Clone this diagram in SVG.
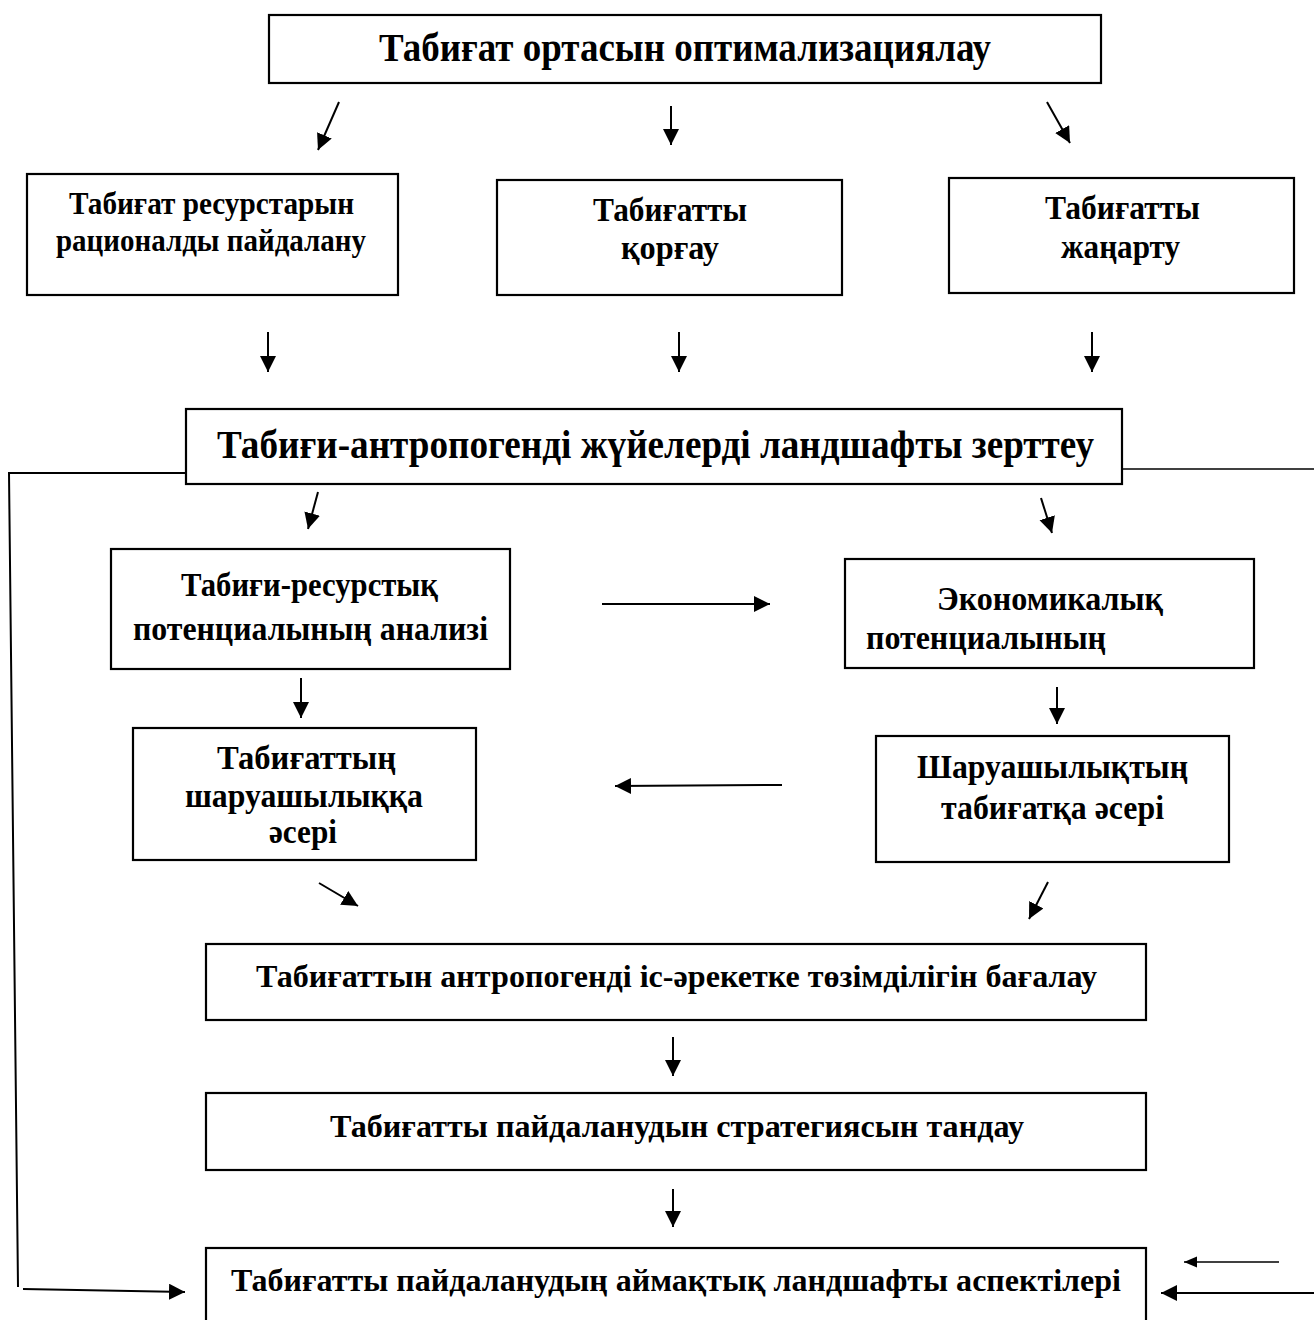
<svg xmlns="http://www.w3.org/2000/svg" width="1314" height="1320" viewBox="0 0 1314 1320">
<style>
.box{fill:#fff;stroke:#000;stroke-width:2.2}
.t{font-family:"Liberation Serif","Times New Roman",serif;font-weight:bold;fill:#000}
.c{stroke:#000;stroke-width:2;fill:none}
.thin{stroke:#000;stroke-width:1.3;fill:none}
</style>
<defs>
<marker id="ah" markerUnits="userSpaceOnUse" markerWidth="18" markerHeight="17" refX="16" refY="8" orient="auto">
<path d="M0,0 L16,8 L0,16 z" fill="#000"/>
</marker>
<marker id="ahs" markerUnits="userSpaceOnUse" markerWidth="14" markerHeight="12" refX="13" refY="5.5" orient="auto">
<path d="M0,0 L13,5.5 L0,11 z" fill="#000"/>
</marker>
</defs>
<rect width="1314" height="1320" fill="#fff"/>

<g id="n1"><rect class="box" x="269" y="15" width="832" height="68"/>
<text class="t" x="379" y="61" font-size="40" textLength="612" lengthAdjust="spacingAndGlyphs">Табиғат ортасын оптимализациялау</text></g>

<g id="n2"><rect class="box" x="27" y="174" width="371" height="121"/>
<text class="t" x="69" y="214" font-size="31" textLength="285" lengthAdjust="spacingAndGlyphs">Табиғат ресурстарын</text>
<text class="t" x="56" y="251" font-size="31" textLength="310" lengthAdjust="spacingAndGlyphs">рационалды пайдалану</text></g>

<g id="n3"><rect class="box" x="497" y="180" width="345" height="115"/>
<text class="t" x="593" y="221" font-size="34" textLength="154" lengthAdjust="spacingAndGlyphs">Табиғатты</text>
<text class="t" x="621" y="259" font-size="34" textLength="98" lengthAdjust="spacingAndGlyphs">қорғау</text></g>

<g id="n4"><rect class="box" x="949" y="178" width="345" height="115"/>
<text class="t" x="1045" y="219" font-size="34" textLength="155" lengthAdjust="spacingAndGlyphs">Табиғатты</text>
<text class="t" x="1061" y="258" font-size="34" textLength="119" lengthAdjust="spacingAndGlyphs">жаңарту</text></g>

<g id="n5"><rect class="box" x="186" y="409" width="936" height="75"/>
<text class="t" x="217" y="458" font-size="40" textLength="877" lengthAdjust="spacingAndGlyphs">Табиғи-антропогенді жүйелерді ландшафты зерттеу</text></g>

<g id="n6"><rect class="box" x="111" y="549" width="399" height="120"/>
<text class="t" x="181" y="596" font-size="33" textLength="257" lengthAdjust="spacingAndGlyphs">Табиғи-ресурстық</text>
<text class="t" x="133" y="640" font-size="33" textLength="355" lengthAdjust="spacingAndGlyphs">потенциалының анализі</text></g>

<g id="n7"><rect class="box" x="845" y="559" width="409" height="109"/>
<text class="t" x="937" y="610" font-size="33" textLength="226" lengthAdjust="spacingAndGlyphs">Экономикалық</text>
<text class="t" x="866" y="649" font-size="33" textLength="240" lengthAdjust="spacingAndGlyphs">потенциалының</text></g>

<g id="n8"><rect class="box" x="133" y="728" width="343" height="132"/>
<text class="t" x="217" y="769" font-size="33" textLength="179" lengthAdjust="spacingAndGlyphs">Табиғаттың</text>
<text class="t" x="185" y="807" font-size="33" textLength="238" lengthAdjust="spacingAndGlyphs">шаруашылыққа</text>
<text class="t" x="269" y="843" font-size="33" textLength="68" lengthAdjust="spacingAndGlyphs">әсері</text></g>

<g id="n9"><rect class="box" x="876" y="736" width="353" height="126"/>
<text class="t" x="917" y="778" font-size="33" textLength="271" lengthAdjust="spacingAndGlyphs">Шаруашылықтың</text>
<text class="t" x="941" y="819" font-size="33" textLength="223" lengthAdjust="spacingAndGlyphs">табиғатқа әсері</text></g>

<g id="n10"><rect class="box" x="206" y="944" width="940" height="76"/>
<text class="t" x="256" y="987" font-size="32" textLength="841" lengthAdjust="spacingAndGlyphs">Табиғаттын антропогенді іс-әрекетке төзімділігін бағалау</text></g>

<g id="n11"><rect class="box" x="206" y="1093" width="940" height="77"/>
<text class="t" x="330" y="1137" font-size="32" textLength="694" lengthAdjust="spacingAndGlyphs">Табиғатты пайдаланудын стратегиясын тандау</text></g>

<g id="n12"><rect class="box" x="206" y="1248" width="940" height="90"/>
<text class="t" x="231" y="1291" font-size="32" textLength="890" lengthAdjust="spacingAndGlyphs">Табиғатты пайдаланудың аймақтық ландшафты аспектілері</text></g>

<g id="connectors">
<line class="c" x1="339" y1="102" x2="318" y2="150" marker-end="url(#ah)"/>
<line class="c" x1="671" y1="106" x2="671" y2="145" marker-end="url(#ah)"/>
<line class="c" x1="1047" y1="102" x2="1070" y2="143" marker-end="url(#ah)"/>
<line class="c" x1="268" y1="332" x2="268" y2="372" marker-end="url(#ah)"/>
<line class="c" x1="679" y1="332" x2="679" y2="372" marker-end="url(#ah)"/>
<line class="c" x1="1092" y1="332" x2="1092" y2="372" marker-end="url(#ah)"/>
<line class="c" x1="318" y1="492" x2="308" y2="529" marker-end="url(#ah)"/>
<line class="c" x1="1041" y1="498" x2="1052" y2="533" marker-end="url(#ah)"/>
<line class="c" x1="602" y1="604" x2="770" y2="604" marker-end="url(#ah)"/>
<line class="c" x1="301" y1="678" x2="301" y2="718" marker-end="url(#ah)"/>
<line class="c" x1="1057" y1="687" x2="1057" y2="724" marker-end="url(#ah)"/>
<line class="c" x1="782" y1="785" x2="615" y2="786" marker-end="url(#ah)"/>
<line class="c" x1="319" y1="883" x2="358" y2="906" marker-end="url(#ah)"/>
<line class="c" x1="1048" y1="882" x2="1029" y2="919" marker-end="url(#ah)"/>
<line class="c" x1="673" y1="1037" x2="673" y2="1076" marker-end="url(#ah)"/>
<line class="c" x1="673" y1="1189" x2="673" y2="1227" marker-end="url(#ah)"/>
<polyline class="c" points="186,473 9,473 18,1287"/>
<line class="c" x1="23" y1="1289" x2="185" y2="1292" marker-end="url(#ah)"/>
<line class="thin" x1="1122" y1="469" x2="1314" y2="469"/>
<line class="thin" x1="1279" y1="1262" x2="1184" y2="1262" marker-end="url(#ahs)"/>
<line class="c" x1="1314" y1="1293" x2="1161" y2="1293" marker-end="url(#ah)"/>
</g>
</svg>
